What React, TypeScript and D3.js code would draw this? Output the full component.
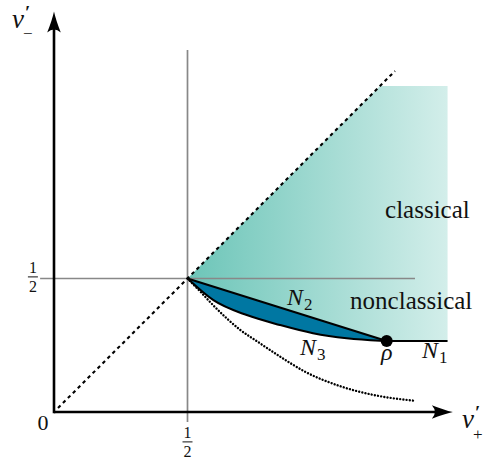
import React from 'react';
import * as d3 from 'd3';

const W = 485;
const H = 461;

// data-space (v'_+, v'_-)
const xDomain: [number, number] = [0, 1.5];
const yDomain: [number, number] = [0, 1.5];
const axisEnd: [number, number] = [1.494, 1.5];
const half = 0.5;
const rho: [number, number] = [1.246, 0.266];
const regionTop = 1.221;
const regionRight = 1.474;
const diagonal: [number, number][] = [[0.015, 0.015], [1.277, 1.277]];
const grayH: [number, number] = [-0.052, 1.352];
const grayV: [number, number] = [-0.037, 1.356];

const n3Curve: [number, number][] = [
  [0.5, 0.5], [0.597, 0.419], [0.722, 0.363], [0.846, 0.326],
  [0.97, 0.295], [1.096, 0.276], [1.221, 0.267], [1.246, 0.266],
];

const dottedCurve: [number, number][] = [
  [0.5, 0.5], [0.547, 0.452], [0.597, 0.399], [0.697, 0.308], [0.772, 0.257],
  [0.846, 0.208], [0.946, 0.148], [1.071, 0.097], [1.196, 0.064], [1.352, 0.042],
];

const regionLabels = [
  { text: 'classical', pos: [1.24, 0.727] },
  { text: 'nonclassical', pos: [1.109, 0.386] },
];

const setLabels = [
  { sub: '2', pos: [0.873, 0.401] },
  { sub: '3', pos: [0.921, 0.213] },
  { sub: '1', pos: [1.378, 0.202] },
];

const axisLabels = [
  { sub: '+', pos: [1.528, -0.06] },
  { sub: '−', pos: [-0.157, 1.44] },
];

const tickFractions = [
  { axis: 'x', num: '1', den: '2', bar: [0.5, -0.112] },
  { axis: 'y', num: '1', den: '2', bar: [-0.079, 0.506] },
];

const SERIF = "'Liberation Serif'";

export default function App() {
  const x = d3.scaleLinear().domain(xDomain).range([54, 54 + 267 * 1.5]);
  const y = d3.scaleLinear().domain(yDomain).range([412, 412 - 267 * 1.5]);

  const line = d3.line<[number, number]>().x(d => x(d[0])).y(d => y(d[1]));
  const curveLine = d3.line<[number, number]>().x(d => x(d[0])).y(d => y(d[1])).curve(d3.curveMonotoneX);

  const regionPts: [number, number][] = [
    [half, half], [regionTop, regionTop], [regionRight, regionTop],
    [regionRight, rho[1]], rho, [half, half],
  ];
  const regionPath = line(regionPts) + 'Z';

  const n3Path = curveLine(n3Curve) || '';
  const lensPath = n3Path + 'L' + x(half) + ',' + y(half) + 'Z';

  const arrow = (tx: number, ty: number, angle: number) => (
    <path
      d="M0,0 Q-9,-2 -21,-6.8 Q-15,0 -21,6.8 Q-9,2 0,0Z"
      transform={`translate(${tx},${ty}) rotate(${angle})`}
      fill="#000"
    />
  );

  const ox = x(0), oy = y(0);

  return (
    <svg width={W} height={H} style={{ position: 'absolute', left: 0, top: 0, background: '#fff' }}>
      <defs>
        <linearGradient id="teal" gradientUnits="userSpaceOnUse" x1={x(half)} x2={x(regionRight)} y1={0} y2={0}>
          <stop offset="0" stopColor="#6cc5b8" />
          <stop offset="1" stopColor="#d3eeea" />
        </linearGradient>
      </defs>

      <path d={regionPath} fill="url(#teal)" />

      <line x1={x(grayH[0])} x2={x(grayH[1])} y1={y(half)} y2={y(half)} stroke="#888" strokeWidth={1.7} />
      <line x1={x(half)} x2={x(half)} y1={y(grayV[0])} y2={y(grayV[1])} stroke="#888" strokeWidth={1.7} />

      <path d={line(diagonal) || ''} stroke="#000" strokeWidth={2.1} strokeDasharray="3.5 3.5" fill="none" />

      <path d={curveLine(dottedCurve) || ''} stroke="#000" strokeWidth={2.4} strokeDasharray="0.01 3.2"
        strokeLinecap="round" fill="none" />

      <path d={lensPath} fill="#0077a2" stroke="none" />
      <path d={n3Path} fill="none" stroke="#000" strokeWidth={2.1} />
      <path d={line([[half, half], rho]) || ''} fill="none" stroke="#000" strokeWidth={2.1} />
      <path d={line([rho, [regionRight, rho[1]]]) || ''} fill="none" stroke="#000" strokeWidth={2.1} />
      <circle cx={x(rho[0])} cy={y(rho[1])} r={6} fill="#000" />

      <line x1={ox} y1={oy} x2={x(axisEnd[0]) - 12} y2={oy} stroke="#000" strokeWidth={2.6} />
      <line x1={ox} y1={oy + 1.3} x2={ox} y2={y(axisEnd[1]) + 12} stroke="#000" strokeWidth={2.6} />
      {arrow(x(axisEnd[0]), oy, 0)}
      {arrow(ox, y(axisEnd[1]), -90)}

      {regionLabels.map(l => (
        <text key={l.text} x={x(l.pos[0])} y={y(l.pos[1])} fontSize={25} fill="#111" fontFamily={SERIF}>{l.text}</text>
      ))}

      {setLabels.map(l => (
        <g key={l.sub}>
          <text x={x(l.pos[0])} y={y(l.pos[1])} fontSize={24} fill="#111" fontFamily={SERIF} fontStyle="italic">N</text>
          <text x={x(l.pos[0]) + 17} y={y(l.pos[1]) + 5} fontSize={17} fill="#111" fontFamily={SERIF}>{l.sub}</text>
        </g>
      ))}
      <text x={x(rho[0])} y={y(rho[1]) + 19} fontSize={24} textAnchor="middle" fill="#111" fontFamily={SERIF} fontStyle="italic">ρ</text>

      {axisLabels.map(l => (
        <g key={l.sub}>
          <text x={x(l.pos[0])} y={y(l.pos[1])} fontSize={27} fill="#111" fontFamily={SERIF} fontStyle="italic">v</text>
          <text x={x(l.pos[0]) + 13} y={y(l.pos[1]) - 9} fontSize={19} fill="#111" fontFamily={SERIF} fontWeight="bold">′</text>
          <text x={x(l.pos[0]) + 11} y={y(l.pos[1]) + 11.5} fontSize={17} fill="#111" fontFamily={SERIF}>{l.sub}</text>
        </g>
      ))}

      <text x={x(-0.041)} y={y(-0.067)} fontSize={22} textAnchor="middle" fill="#111" fontFamily={SERIF}>0</text>

      {tickFractions.map(f => {
        const cx = x(f.bar[0]);
        const by = y(f.bar[1]);
        return (
          <g key={f.axis}>
            <text x={cx} y={by - 4} fontSize={16} textAnchor="middle" fill="#111" fontFamily={SERIF}>{f.num}</text>
            <line x1={cx - 5} x2={cx + 5} y1={by} y2={by} stroke="#111" strokeWidth={1} />
            <text x={cx} y={by + 15.5} fontSize={16} textAnchor="middle" fill="#111" fontFamily={SERIF}>{f.den}</text>
          </g>
        );
      })}
    </svg>
  );
}
